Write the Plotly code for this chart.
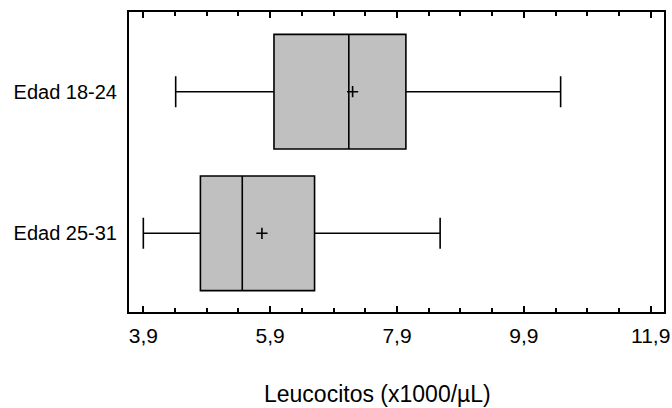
import plotly.graph_objects as go

categories = ["Edad 18-24", "Edad 25-31"]
lower_whisker = [4.41, 3.90]
q1_values = [5.96, 4.80]
median_values = [7.14, 5.46]
q3_values = [8.04, 6.60]
upper_whisker = [10.48, 8.58]
mean_values = [7.20, 5.77]
tick_values = [3.9, 5.9, 7.9, 9.9, 11.9]
tick_labels = ["3,9", "5,9", "7,9", "9,9", "11,9"]
x_title = "Leucocitos (x1000/µL)"

FONT = "Liberation Sans, Arial, sans-serif"

fig = go.Figure()
fig.add_trace(go.Box(
    y=categories,
    q1=q1_values, median=median_values, q3=q3_values,
    lowerfence=lower_whisker, upperfence=upper_whisker,
    orientation="h",
    fillcolor="#C0C0C0",
    line=dict(color="black", width=1.6),
    whiskerwidth=0.27,
    width=0.81,
    boxpoints=False,
    showlegend=False,
    hoverinfo="skip",
))
fig.add_trace(go.Scatter(
    x=mean_values, y=categories, mode="markers",
    marker=dict(symbol="cross-thin", size=8, line=dict(color="black", width=1.6), color="black"),
    showlegend=False, hoverinfo="skip",
))

fig.update_layout(
    width=672, height=408,
    margin=dict(l=129, r=8, t=12, b=96),
    paper_bgcolor="white", plot_bgcolor="white",
    font=dict(family=FONT, size=20, color="black"),
    xaxis=dict(
        range=[3.674, 12.11],
        tickmode="array", tickvals=tick_values, ticktext=tick_labels,
        ticks="inside", ticklen=6, tickwidth=1.5, tickcolor="black",
        showgrid=False, zeroline=False,
        showline=True, linecolor="black", linewidth=2, mirror="ticks",
        minor=dict(ticks="inside", ticklen=4, tickwidth=1.5, tickcolor="black",
                   tick0=3.9, dtick=0.5, showgrid=False),
        tickfont=dict(size=21),
        ticklabelstandoff=4,
        automargin=False,
    ),
    yaxis=dict(
        type="category",
        categoryorder="array", categoryarray=list(reversed(categories)),
        range=[-0.556, 1.563],
        ticks="", showgrid=False, zeroline=False,
        showline=True, linecolor="black", linewidth=2, mirror=True,
        tickfont=dict(size=20),
        ticklabelstandoff=6,
        automargin=False,
    ),
    annotations=[dict(
        text=x_title, xref="paper", yref="paper",
        x=0.4636, y=-0.273, xanchor="center", yanchor="middle",
        showarrow=False, font=dict(size=23),
    )],
)

fig.write_html("out.html")
